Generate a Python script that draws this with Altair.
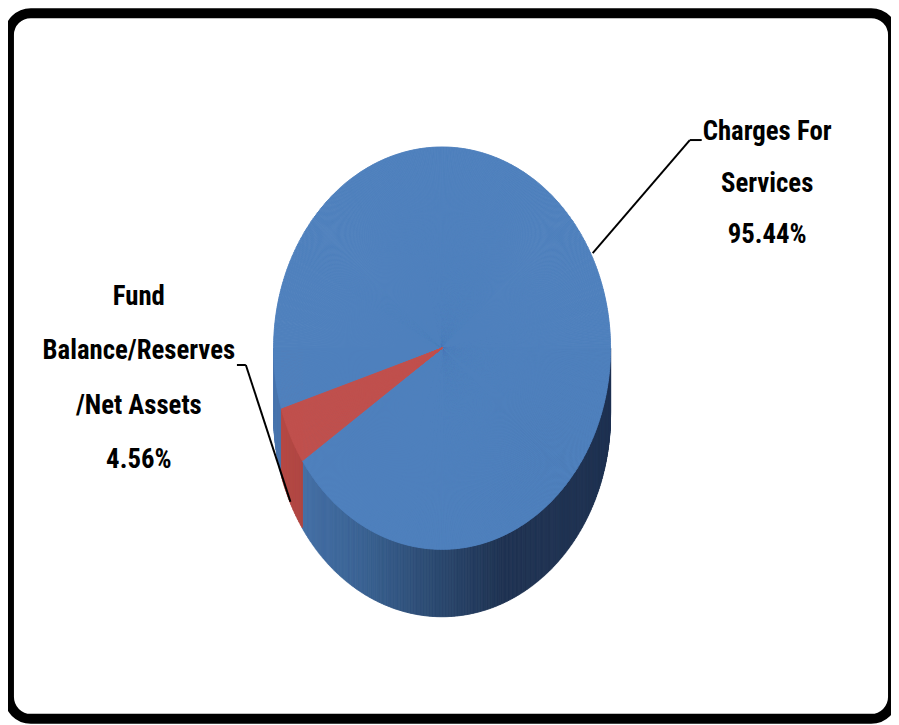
import math
import altair as alt
import pandas as pd

# ---------------- data ----------------
categories = ["Charges For Services", "Fund Balance/Reserves/Net Assets"]
shares = [95.44, 4.56]
label_lines = [
    ["Charges For", "Services", "95.44%"],
    ["Fund", "Balance/Reserves", "/Net Assets", "4.56%"],
]

# ---------------- styling / geometry ----------------
top_colors = ["#4f81bd", "#c0504d"]
W, H = 891, 717
CX, CY = 438, 340          # pie centre (chart px)
RX, RY = 170, 203          # ellipse radii of the top face
DEPTH = 68                 # 3-D thickness
ROT_DEG = 252.4            # start angle of first slice
N = 720                    # subdivision for smooth ellipse
FONT = "Roboto Condensed, Open Sans Condensed, Liberation Sans Narrow, Arial Narrow, DejaVu Sans Condensed, sans-serif"

df = pd.DataFrame({"category": categories, "share": shares, "order": list(range(len(categories)))})
total = sum(shares)
rot = math.radians(ROT_DEG)

xs = alt.Scale(domain=[(0 - CX) / RX, (W - CX) / RX], nice=False, zero=False)
ys = alt.Scale(domain=[(CY - H) / RY, CY / RY], nice=False, zero=False)

base = (
    alt.Chart(df)
    .transform_window(cum="sum(share)", sort=[alt.SortField("order")], frame=[None, 0])
    .transform_calculate(t0=f"{rot} + 2*PI*(datum.cum - datum.share)/{total}")
    .transform_calculate(t1=f"{rot} + 2*PI*datum.cum/{total}")
    .transform_calculate(n=f"ceil(datum.share/{total}*{N})")
    .transform_calculate(k="sequence(0, datum.n)")
    .transform_flatten(["k"])
    .transform_calculate(a="datum.t0 + (datum.t1 - datum.t0)*datum.k/datum.n")
    .transform_calculate(b="datum.t0 + (datum.t1 - datum.t0)*(datum.k + 1)/datum.n")
    .transform_calculate(m="(datum.a + datum.b)/2")
    .transform_calculate(pa=f"atan2({RX}*sin(datum.a), {RY}*cos(datum.a))")
    .transform_calculate(pb0=f"atan2({RX}*sin(datum.b), {RY}*cos(datum.b))")
    .transform_calculate(pb="datum.pb0 < datum.pa ? datum.pb0 + 2*PI : datum.pb0")
    .transform_calculate(rad=f"sqrt(pow({RX}*sin(datum.m), 2) + pow({RY}*cos(datum.m), 2))")
    .transform_calculate(ua="sin(datum.a)", ub="sin(datum.b)", um="sin(datum.m)")
    .transform_calculate(vc="cos(datum.m)")
    .transform_calculate(vbot=f"datum.vc - {DEPTH / RY}")
    .transform_calculate(zero="0")
)

def side_layer(idx, dom, rng):
    sc = alt.Scale(domain=dom, range=rng, clamp=True)
    return (
        base.transform_filter(f"datum.order == {idx} && datum.vc < 0.03")
        .mark_rect(strokeWidth=0.9)
        .encode(
            x=alt.X("ua:Q", scale=xs, axis=None),
            x2="ub:Q",
            y=alt.Y("zero:Q", scale=ys, axis=None),
            y2="vbot:Q",
            color=alt.Color("um:Q", scale=sc, legend=None),
            stroke=alt.Stroke("um:Q", scale=sc, legend=None),
        )
    )

side_blue = side_layer(0, [-1, -0.5, 0, 0.35], ["#4a76af", "#3a6394", "#2a476d", "#1f3352"])
side_red = side_layer(1, [-1, -0.7], ["#b84a46", "#a8433f"])

cat_scale = alt.Scale(domain=categories, range=top_colors)
top = base.mark_arc(strokeWidth=1).encode(
    x=alt.X("zero:Q", scale=xs, axis=None),
    y=alt.Y("zero:Q", scale=ys, axis=None),
    theta=alt.Theta("pa:Q", scale=None),
    theta2="pb:Q",
    radius=alt.Radius("rad:Q", scale=None),
    color=alt.Color("category:N", scale=cat_scale, legend=None),
    stroke=alt.Stroke("category:N", scale=cat_scale, legend=None),
)

one = alt.Chart(pd.DataFrame({"v": [0]}))
border = one.mark_rect(fill="white", stroke="black", strokeWidth=10, cornerRadius=22).encode(
    x=alt.value(1), x2=alt.value(893), y=alt.value(2), y2=alt.value(714)
)

leaders = [
    (700, 130, 688, 130), (688, 130, 590, 244),
    (231, 357, 240, 357), (240, 357, 285, 495),
]
rules = [
    one.mark_rule(color="black", strokeWidth=2).encode(
        x=alt.value(x1), y=alt.value(y1), x2=alt.value(x2), y2=alt.value(y2)
    )
    for (x1, y1, x2, y2) in leaders
]

label_pos = [(766, 122, 52), (132, 288, 55)]
texts = [
    one.mark_text(
        font=FONT, fontWeight="bold", fontSize=27, color="black",
        align="center", baseline="middle", lineHeight=lh,
    ).encode(x=alt.value(x), y=alt.value(y), text=alt.value(lines))
    for lines, (x, y, lh) in zip(label_lines, label_pos)
]

chart = (
    alt.layer(border, side_blue, side_red, top, *rules, *texts)
    .resolve_scale(color="independent", stroke="independent")
    .properties(width=W, height=H, padding=0, autosize=alt.AutoSizeParams(type="none"))
    .configure_view(stroke=None)
)

chart.save("out.html", embed_options={"renderer": "svg", "actions": False})
